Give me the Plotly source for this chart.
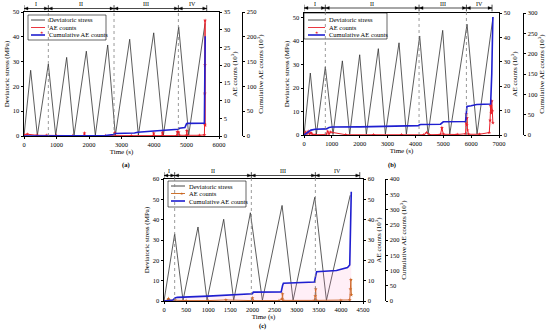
import plotly.graph_objects as go

# ---------------- data ----------------
# (a)
a_stress_t = [0, 205, 410, 749, 975, 1313, 1539, 1918, 2195, 2575, 2811, 3252, 3519, 3991, 4289, 4760, 5068, 5571]
a_stress_v = [0, 26.5, 0.2, 29.0, 0.2, 31.7, 0.2, 34.2, 0.3, 36.7, 0.3, 39.0, 0.3, 41.6, 0.3, 44.0, 0.4, 45.4]
a_ae_t = [0, 100, 400, 700, 1000, 1500, 1850, 1860, 1870, 2500, 2780, 2790, 2800, 3300, 3980, 3990, 4000,
          4250, 4260, 4270, 4700, 4720, 4740, 4760, 4780, 5000, 5010, 5020, 5400, 5550, 5558, 5563, 5568, 5571, 5575]
a_ae_v = [0.3, 0.5, 0.2, 0.2, 0.1, 0.1, 0.1, 0.8, 0.1, 0.1, 0.1, 0.9, 0.1, 0.1, 0.1, 0.8, 0.1,
          0.1, 1.0, 0.1, 0.1, 1.2, 0.2, 1.1, 0.2, 0.2, 1.5, 0.2, 0.2, 0.3, 3.5, 12, 20, 32.6, 3]
a_cum_t = [0, 2500, 2750, 2800, 3400, 3500, 4000, 4300, 4700, 4750, 4780, 4950, 5000, 5020, 5550, 5565, 5575]
a_cum_v = [0, 1, 3, 5, 6, 7.5, 10, 11, 12, 13.6, 15.5, 17, 24.5, 25.5, 26, 100, 201]
a_stages = [0, 749, 2770, 4750, 5622]

# (b)
b_stress_t = [0, 227, 443, 766, 1041, 1377, 1640, 1999, 2238, 2669, 2921, 3411, 3675, 4153, 4453, 4979, 5231, 5853, 6212, 6786]
b_stress_v = [0, 26.4, 0.2, 29.0, 0.2, 31.6, 0.2, 34.2, 0.3, 36.8, 0.3, 39.3, 0.3, 42.2, 0.3, 44.6, 0.3, 47.2, 0.4, 50.3]
b_ae_t = [0, 50, 100, 150, 200, 250, 300, 400, 800, 850, 900, 950, 1500, 2500, 3500, 4300, 4400, 4500, 4900, 4950,
          5000, 5500, 5800, 5820, 5830, 5840, 5850, 5870, 5900, 6300, 6650, 6680, 6700, 6720, 6740, 6760, 6780]
b_ae_v = [0, 1.2, 0.5, 1.5, 0.4, 1.0, 0.2, 0.1, 0.2, 1.5, 0.5, 1.2, 0.1, 0.1, 0.1, 0.1, 1.0, 0.1, 0.2, 3.0,
          0.3, 0.2, 0.5, 5.0, 8.5, 4.0, 7.0, 2.0, 0.3, 0.3, 1.0, 6.0, 12.0, 9.0, 14.0, 10.0, 5.0]
b_cum_t = [0, 100, 250, 400, 800, 900, 1000, 2000, 3000, 4100, 4150, 4200, 4900, 4950, 5000, 5800, 5830, 5850,
           6000, 6200, 6700, 6740, 6780]
b_cum_v = [0, 5, 12, 14, 15, 18.5, 19.5, 20, 21.5, 23, 25, 26, 26.5, 30, 32.5, 33, 55, 70, 72, 75, 76, 150, 290]
b_stages = [0, 766, 4130, 5830, 6750]

# (c)
c_stress_t = [0, 241, 430, 769, 973, 1350, 1576, 1953, 2225, 2670, 2919, 3409, 3673, 4210]
c_stress_v = [0, 33.0, 0.3, 36.4, 0.3, 40.2, 0.3, 43.4, 0.3, 47.0, 0.3, 51.0, 0.3, 52.0]
c_ae_t = [0, 80, 100, 120, 250, 500, 1000, 1400, 1980, 2000, 2020, 2600, 2670, 2680, 2690, 3400, 3420, 3430,
          3440, 4000, 4200, 4215, 4225, 4235]
c_ae_v = [0, 0.3, 1.2, 0.3, 0.4, 0.2, 0.2, 0.5, 0.2, 1.5, 0.2, 0.2, 1.0, 3.5, 0.3, 0.3, 2.5, 6.0,
          0.3, 0.3, 0.5, 6.0, 10.5, 3.0]
c_cum_t = [0, 200, 250, 300, 1000, 1500, 2000, 2020, 2650, 2680, 2700, 3400, 3430, 3450, 3900, 4150, 4200, 4220, 4235]
c_cum_v = [0, 3, 10, 12, 16, 20, 24, 29, 30, 50, 58, 62, 90, 96, 100, 110, 118, 250, 358]
c_stages = [0, 241, 1975, 3423, 4427]

stage_labels = ["I", "II", "III", "IV"]
series_names = ["Deviatoric stress", "AE counts", "Cumulative AE counts"]

# ---------------- layout helpers ----------------
W, H = 550, 335
FONT = "Liberation Serif"
def px(x): return x / W
def py(y): return 1 - y / H

STRESS_COL = "#333333"
CUM_COL = "#1f1fd0"

fig = go.Figure()

panels = [
    dict(xa="x", ys=("y", "y2", "y3"), xname="xaxis", ynames=("yaxis", "yaxis2", "yaxis3"),
         st=(a_stress_t, a_stress_v), ae=(a_ae_t, a_ae_v), cum=(a_cum_t, a_cum_v), stages=a_stages,
         xdom=(24, 219), ydom=(12, 136), cumx=242, xr=[0, 6000], xd=1000, sr=[0, 50], sd=10,
         aer=[0, 35], aed=5, cr=[0, 250], cd=50, aecol="#e8202a",
         box=(28, 15, 106, 40), samp=(31, 45), textx=47, rows=(20, 27.5, 35),
         arrow_y=8.5, label_y=4.5, cap="(a)", capx=121, capy=164.5, fill=False),
    dict(xa="x2", ys=("y4", "y5", "y6"), xname="xaxis2", ynames=("yaxis4", "yaxis5", "yaxis6"),
         st=(b_stress_t, b_stress_v), ae=(b_ae_t, b_ae_v), cum=(b_cum_t, b_cum_v), stages=b_stages,
         xdom=(304, 499), ydom=(13, 135), cumx=523, xr=[0, 7000], xd=1000, sr=[0, 52], sd=10,
         aer=[0, 50], aed=10, cr=[0, 300], cd=50, aecol="#e8202a",
         box=(304, 13, 387, 39), samp=(308, 325), textx=327, rows=(20, 27.5, 35),
         arrow_y=8, label_y=4.5, cap="(b)", capx=397, capy=164.5, fill=False),
    dict(xa="x3", ys=("y7", "y8", "y9"), xname="xaxis3", ynames=("yaxis7", "yaxis8", "yaxis9"),
         st=(c_stress_t, c_stress_v), ae=(c_ae_t, c_ae_v), cum=(c_cum_t, c_cum_v), stages=c_stages,
         xdom=(164, 363), ydom=(179, 301), cumx=385, xr=[0, 4500], xd=500, sr=[0, 60], sd=10,
         aer=[0, 60], aed=10, cr=[0, 400], cd=50, aecol="#c86418",
         box=(168, 181, 246, 207), samp=(171, 185), textx=187, rows=(186, 193.5, 201),
         arrow_y=175.5, label_y=171, cap="(c)", capx=262, capy=330.5, fill=True),
]

tickfont = dict(family=FONT, size=6.5, color="black")
titlefont = dict(family=FONT, size=7, color="black")
axcommon = dict(showgrid=False, zeroline=False, showline=True, linecolor="black", linewidth=0.8,
                ticks="outside", ticklen=2.5, tickwidth=0.7, tickcolor="black", tickfont=tickfont)

shapes, annotations = [], []
lay = {}
for p in panels:
    ys, yae, ycum = p["ys"]
    xa = p["xa"]
    fig.add_trace(go.Scatter(x=p["st"][0], y=p["st"][1], mode="lines", name=series_names[0],
                             line=dict(color=STRESS_COL, width=0.8), xaxis=xa, yaxis=ys, showlegend=False))
    fig.add_trace(go.Scatter(x=p["ae"][0], y=p["ae"][1], mode="lines+markers", name=series_names[1],
                             line=dict(color=p["aecol"], width=1.0),
                             marker=dict(symbol="star", size=3, color=p["aecol"]),
                             xaxis=xa, yaxis=yae, showlegend=False))
    fig.add_trace(go.Scatter(x=p["cum"][0], y=p["cum"][1], mode="lines", name=series_names[2],
                             line=dict(color=CUM_COL, width=1.6),
                             fill="tozeroy" if p["fill"] else None,
                             fillcolor="rgba(255,150,200,0.15)",
                             xaxis=xa, yaxis=ycum, showlegend=False))

    xdom = [px(p["xdom"][0]), px(p["xdom"][1])]
    ydom = [py(p["ydom"][1]), py(p["ydom"][0])]
    lay[p["xname"]] = dict(axcommon, domain=xdom, anchor=ys, range=p["xr"], dtick=p["xd"], mirror=True,
                           title=dict(text="Time (s)", font=titlefont, standoff=1))
    lay[p["ynames"][0]] = dict(axcommon, domain=ydom, anchor=xa, range=p["sr"], dtick=p["sd"],
                               title=dict(text="Deviatoric stress (MPa)", font=titlefont, standoff=2))
    lay[p["ynames"][1]] = dict(axcommon, overlaying=ys, side="right", anchor=xa, range=p["aer"], dtick=p["aed"],
                               title=dict(text="AE counts (10<sup>3</sup>)", font=titlefont, standoff=0))
    lay[p["ynames"][2]] = dict(axcommon, overlaying=ys, side="right", anchor="free", position=px(p["cumx"]),
                               range=p["cr"], dtick=p["cd"],
                               title=dict(text="Cumulative AE counts (10<sup>3</sup>)", font=titlefont, standoff=1))

    # custom compact legend
    bx0, by0, bx1, by1 = p["box"]
    shapes.append(dict(type="rect", xref="paper", yref="paper", x0=px(bx0), x1=px(bx1), y0=py(by1), y1=py(by0),
                       line=dict(color="black", width=0.6), fillcolor="white", layer="above"))
    cols = [STRESS_COL, p["aecol"], CUM_COL]
    widths = [0.9, 0.9, 1.6]
    s0, s1 = p["samp"]
    for r, (name, col, w) in enumerate(zip(series_names, cols, widths)):
        ry = py(p["rows"][r])
        shapes.append(dict(type="line", xref="paper", yref="paper", x0=px(s0), x1=px(s1), y0=ry, y1=ry,
                           line=dict(color=col, width=w), layer="above"))
        if r == 1:
            annotations.append(dict(x=px((s0 + s1) / 2), y=ry, xref="paper", yref="paper", text="★",
                                    showarrow=False, font=dict(family="DejaVu Sans", size=4, color=col)))
        annotations.append(dict(x=px(p["textx"]), y=ry, xref="paper", yref="paper", text=name,
                                showarrow=False, xanchor="left", yanchor="middle",
                                font=dict(family=FONT, size=6.5, color="black")))

    # stage dividers and double-headed arrows
    ay = py(p["arrow_y"])
    st = p["stages"]
    sec_per_px = (p["xr"][1] - p["xr"][0]) / (p["xdom"][1] - p["xdom"][0])
    hl = 4 * sec_per_px          # arrowhead length (4 px)
    hh = 1.6 / H                 # arrowhead half height (1.6 px)
    for i, b in enumerate(st):
        shapes.append(dict(type="line", xref=xa, yref="paper", x0=b, x1=b, y0=ay - 0.01, y1=ay + 0.01,
                           line=dict(color="black", width=0.7)))
        if 0 < i < len(st) - 1:
            shapes.append(dict(type="line", xref=xa, yref="paper", x0=b, x1=b, y0=ydom[0], y1=ay,
                               line=dict(color="#808080", width=0.8, dash="dot")))
    for i in range(len(st) - 1):
        a0, a1 = st[i], st[i + 1]
        shapes.append(dict(type="line", xref=xa, yref="paper", x0=a0, x1=a1, y0=ay, y1=ay,
                           line=dict(color="black", width=0.7)))
        shapes.append(dict(type="path", xref=xa, yref="paper",
                           path=f"M {a0} {ay} L {a0 + hl} {ay + hh} L {a0 + hl} {ay - hh} Z",
                           fillcolor="black", line=dict(color="black", width=0.3)))
        shapes.append(dict(type="path", xref=xa, yref="paper",
                           path=f"M {a1} {ay} L {a1 - hl} {ay + hh} L {a1 - hl} {ay - hh} Z",
                           fillcolor="black", line=dict(color="black", width=0.3)))
        annotations.append(dict(x=(a0 + a1) / 2, y=py(p["label_y"]), xref=xa, yref="paper",
                                text=stage_labels[i], showarrow=False, yanchor="middle", borderpad=0,
                                font=dict(family=FONT, size=6, color="black")))
    annotations.append(dict(x=px(p["capx"]), y=py(p["capy"]), xref="paper", yref="paper",
                            text="<b>" + p["cap"] + "</b>", showarrow=False, borderpad=0,
                            font=dict(family=FONT, size=6.5, color="black")))

fig.update_layout(width=W, height=H, margin=dict(l=0, r=0, t=0, b=0, autoexpand=False),
                  paper_bgcolor="white", plot_bgcolor="white", showlegend=False,
                  shapes=shapes, annotations=annotations, **lay)
fig.write_html("out.html", config={"displayModeBar": False},
               post_script="document.body.style.margin='0';document.body.style.padding='0';")
